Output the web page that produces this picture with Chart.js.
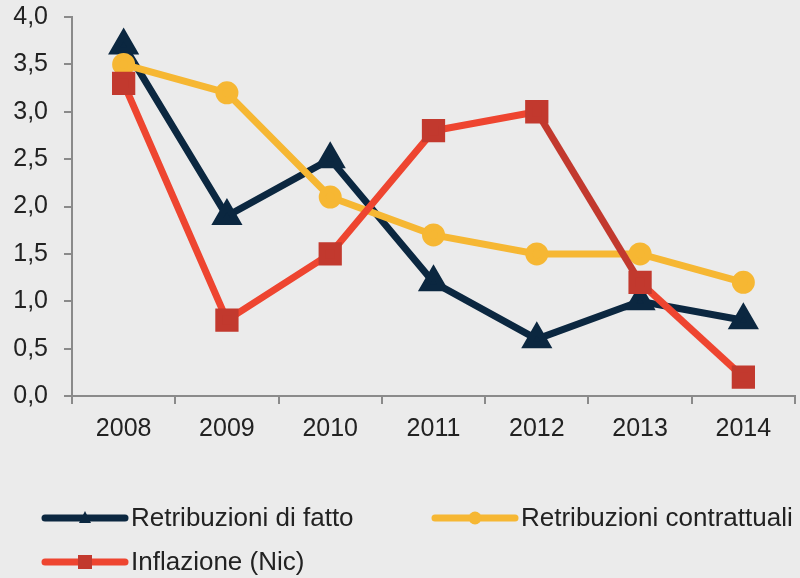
<!DOCTYPE html>
<html>
<head>
<meta charset="utf-8">
<script src="https://cdn.jsdelivr.net/npm/chart.js@4/dist/chart.umd.min.js"></script>
<style>
  html, body { margin: 0; padding: 0; background: #ebebeb; }
  #wrap { width: 800px; height: 578px; }
</style>
</head>
<body>
<div id="wrap"><canvas id="myChart" width="800" height="578"></canvas></div>
<script>
var anni = ["2008", "2009", "2010", "2011", "2012", "2013", "2014"];
var retribuzioniFatto = [3.7, 1.9, 2.5, 1.2, 0.6, 1.0, 0.8];
var retribuzioniContrattuali = [3.5, 3.2, 2.1, 1.7, 1.5, 1.5, 1.2];
var inflazione = [3.3, 0.8, 1.5, 2.8, 3.0, 1.2, 0.2];
var yTicks = [0, 0.5, 1, 1.5, 2, 2.5, 3, 3.5, 4];

var FONT = "'Liberation Sans', Arial, sans-serif";

// background + legend drawn by hand (line with marker in the middle)
var sfondo = {
    id: 'sfondo',
    beforeDraw: function(chart) {
        var c = chart.ctx;
        c.save();
        c.fillStyle = '#ebebeb';
        c.fillRect(0, 0, chart.width, chart.height);
        c.restore();
    },
    afterDraw: function(chart) {
        var c = chart.ctx;
        var pos = [[45, 518], [435, 518], [45, 562]];
        chart.data.datasets.forEach(function(ds, i) {
            var x = pos[i][0], y = pos[i][1];
            c.save();
            c.strokeStyle = ds.legendLine;
            c.lineWidth = 7;
            c.lineCap = 'round';
            c.beginPath();
            c.moveTo(x, y);
            c.lineTo(x + 80, y);
            c.stroke();
            c.fillStyle = ds.pointBackgroundColor;
            c.beginPath();
            if (ds.pointStyle === 'triangle') {
                c.moveTo(x + 40, y - 7);
                c.lineTo(x + 46, y + 5);
                c.lineTo(x + 34, y + 5);
                c.closePath();
            } else if (ds.pointStyle === 'rect') {
                c.rect(x + 33, y - 7, 14, 14);
            } else {
                c.arc(x + 40, y, 6.5, 0, Math.PI * 2);
            }
            c.fill();
            c.fillStyle = '#222';
            c.font = '26px ' + FONT;
            c.textBaseline = 'middle';
            c.fillText(ds.label, x + 86, y + 1);
            c.restore();
        });
    }
};

var ctx = document.getElementById("myChart").getContext('2d');
var myChart = new Chart(ctx, {
    type: 'line',
    data: {
        labels: anni,
        datasets: [{
            label: 'Retribuzioni di fatto',
            data: retribuzioniFatto,
            borderColor: '#0b2740',
            legendLine: '#0b2740',
            pointBackgroundColor: '#0b2740',
            pointBorderColor: '#0b2740',
            pointStyle: 'triangle',
            pointRadius: 11,
            borderWidth: 7,
            order: 3
        }, {
            label: 'Retribuzioni contrattuali',
            data: retribuzioniContrattuali,
            borderColor: '#f6b733',
            legendLine: '#f6b733',
            pointBackgroundColor: '#f6b733',
            pointBorderColor: '#f6b733',
            pointStyle: 'circle',
            pointRadius: 8,
            borderWidth: 7,
            order: 2
        }, {
            label: 'Inflazione (Nic)',
            data: inflazione,
            borderColor: '#ee4530',
            legendLine: '#ee4530',
            segment: {
                borderColor: function(s) { return s.p0DataIndex === 4 ? '#c2392e' : '#ee4530'; }
            },
            pointBackgroundColor: '#c2392e',
            pointBorderColor: '#c2392e',
            pointStyle: 'rect',
            pointRadius: 11.5,
            borderWidth: 7,
            order: 1
        }]
    },
    options: {
        responsive: false,
        animation: false,
        layout: { autoPadding: false, padding: { top: 17, right: 5, left: 0, bottom: 130 } },
        plugins: {
            legend: { display: false },
            tooltip: { enabled: false }
        },
        elements: { line: { tension: 0 } },
        scales: {
            x: {
                offset: true,
                grid: { display: true, drawOnChartArea: false, drawTicks: true, tickLength: 8, offset: true, color: '#8a8a8a', lineWidth: 2 },
                border: { color: '#8a8a8a', width: 2 },
                ticks: { color: '#222', font: { family: FONT, size: 25 }, padding: 10 },
                afterFit: function(s) { s.height = 52; s.paddingLeft = 0; s.paddingRight = 0; }
            },
            y: {
                min: 0,
                max: 4,
                afterBuildTicks: function(s) { s.ticks = yTicks.map(function(v) { return { value: v }; }); },
                grid: { display: true, drawOnChartArea: false, drawTicks: true, tickLength: 8, color: '#8a8a8a', lineWidth: 2 },
                border: { color: '#8a8a8a', width: 2 },
                ticks: {
                    color: '#222',
                    font: { family: FONT, size: 25 },
                    padding: 16,
                    callback: function(v) { return v.toFixed(1).replace('.', ','); }
                },
                afterFit: function(s) { s.width = 72; s.paddingTop = 0; s.paddingBottom = 0; }
            }
        }
    },
    plugins: [sfondo]
});
</script>
</body>
</html>
